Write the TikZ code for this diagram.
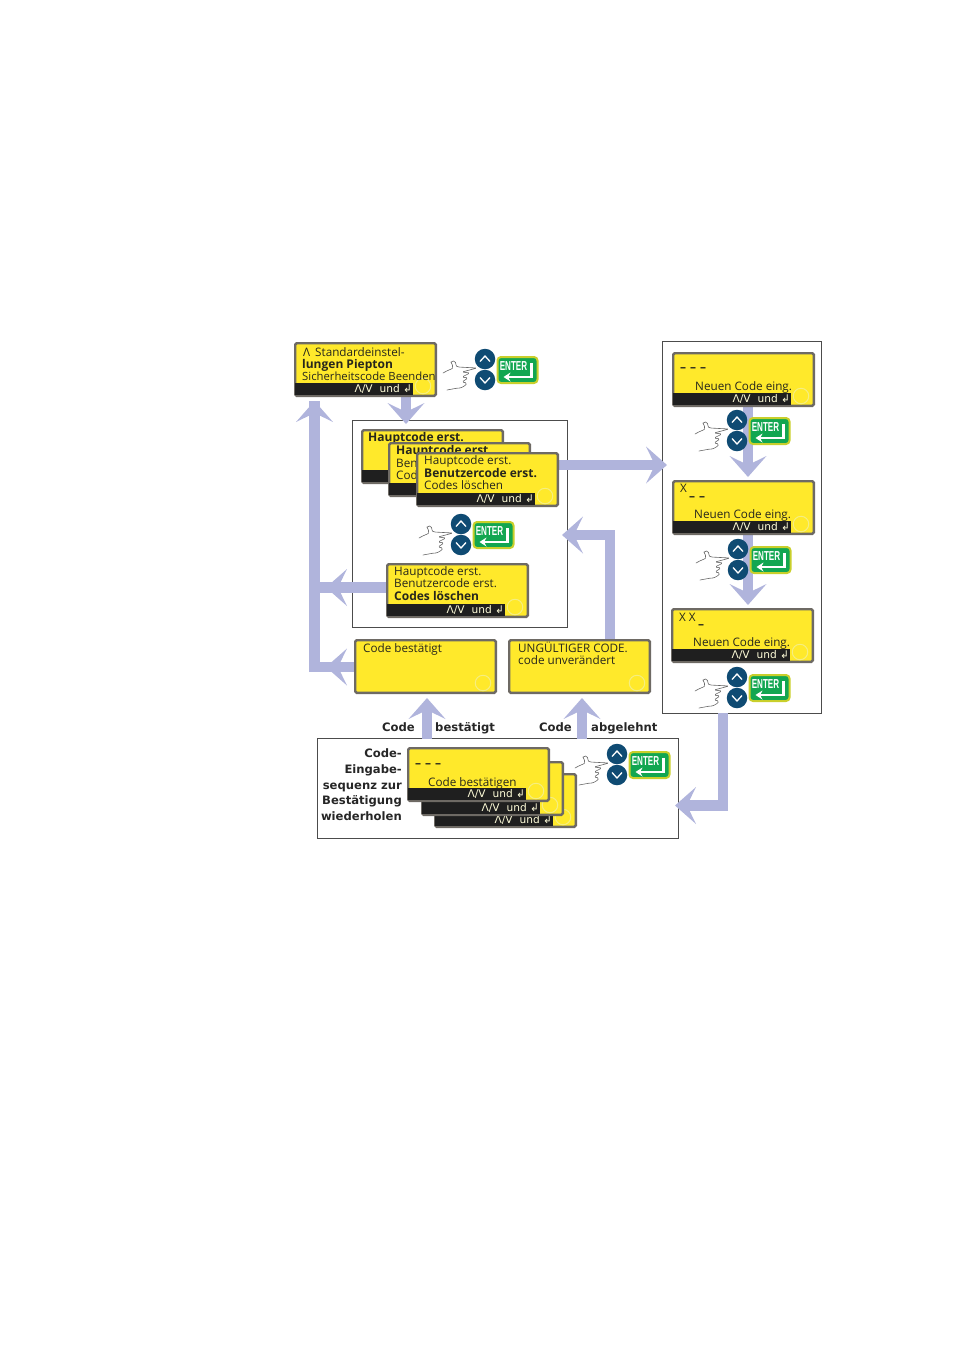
\documentclass[tikz,border=0pt]{standalone}
\usepackage{fontspec}
\setmainfont{Open Sans}
\newfontfamily\barfont{DejaVu Sans}
\newfontfamily\enterfont[FakeStretch=0.62]{Liberation Sans}
\usetikzlibrary{arrows.meta, positioning}

\definecolor{lcdyellow}{HTML}{FFE92B}
\definecolor{lcdedge}{HTML}{6E6A64}
\definecolor{lcdring}{HTML}{F6EE80}
\definecolor{flowblue}{HTML}{B0B4DC}
\definecolor{keyblue}{HTML}{0F4B73}
\definecolor{keygreen}{HTML}{12A651}
\definecolor{keyring}{HTML}{C9CF2B}
\definecolor{lcdink}{HTML}{26261C}

\tikzset{
  screen/.style={rectangle, draw=lcdedge, line width=2.4pt, fill=lcdyellow, rounded corners=1.5pt,
    minimum width=140.6pt, minimum height=52.6pt, anchor=north west, inner sep=0pt, outer sep=0pt},
  screenbar/.style={rectangle, fill=black!88, minimum width=118pt, minimum height=12pt,
    anchor=south west, inner sep=0pt, outer sep=0pt},
  screenring/.style={circle, draw=lcdring, line width=1pt, minimum size=15.5pt, inner sep=0pt},
  bartext/.style={anchor=east, text=yellow!15, inner sep=0pt, font=\barfont\fontsize{10.6}{11}\selectfont},
  lcdline/.style={anchor=west, yshift=-1pt, text=lcdink, inner sep=0pt, text height=8.5pt, text depth=2.5pt,
    font=\fontsize{11.7}{13}\selectfont},
  lcdbold/.style={lcdline, font=\fontsize{12}{13}\bfseries\selectfont},
  lcddash/.style={lcdline, font=\fontsize{12}{13}\bfseries\selectfont},
  lcdsmall/.style={lcdline, font=\fontsize{11.3}{13}\selectfont},
  steplabel/.style={yshift=-0.5pt, text=black!85, inner sep=0pt, text height=8.5pt, text depth=2.5pt,
    font=\barfont\fontsize{11.6}{13}\bfseries\selectfont},
  framebox/.style={rectangle, draw=black!70, line width=0.8pt, inner sep=0pt, outer sep=0pt, anchor=north west},
  flow/.style={draw=flowblue, line width=10.5pt},
  flowtip/.style={flow, -{Stealth[length=21pt, width=37pt, inset=9pt, line width=0pt]}},
  updown/.style={circle, fill=keyblue, minimum size=20.5pt, inner sep=0pt},
  chevron/.style={draw=white, line width=1.3pt},
  enterkey/.style={rectangle, draw=keyring, line width=2pt, fill=keygreen, rounded corners=3.5pt,
    minimum width=40pt, minimum height=26pt, inner sep=0pt},
  entertext/.style={text=white, inner sep=0pt, font=\enterfont\fontsize{13}{13}\bfseries\selectfont},
  returnline/.style={draw=white, line width=2.4pt, -{Stealth[length=7pt, width=9pt, line width=0pt]}},
  handline/.style={draw=black!60, line width=0.6pt, line cap=round, rounded corners=1.5pt},
}

% screen: name, left, top
\newcommand{\lcdscreen}[3]{
  \node (#1)[screen] at (#2+1.2, #3+1.2) {};
  \node (#1ring)[screenring] at (#2+129, #3+44) {};
}
% screen with the black line at the bottom
\newcommand{\lcdbarred}[3]{
  \lcdscreen{#1}{#2}{#3}
  \node (#1bar)[screenbar] at ([shift={(0,-0.5)}]#1.south west) {};
  \node (#1keys)[bartext] at ([xshift=-1pt]#1bar.east) {Λ/V\,\, und ↲};
}
% buttons and hand: name, centre of the upper button
\newcommand{\keypad}[2]{
  \begin{scope}[shift={(#2)}]
  \node (#1up)[updown] at (0,0) {};
  \node (#1down)[updown] at (0,21) {};
  \draw[chevron] (-5,2.5) -- (0,-3) -- (5,2.5);
  \draw[chevron] (-5,18.5) -- (0,24) -- (5,18.5);
  \node (#1enter)[enterkey] at (32.5,11) {};
  \node (#1label)[entertext] at ([shift={(-4,-4)}]#1enter.center) {ENTER};
  \draw[returnline] ([shift={(14,-7)}]#1enter.center) |- ([shift={(-14,7)}]#1enter.center);
  \draw[handline] (-42,14) .. controls (-37,11) and (-33,10) .. (-32,8)
    .. controls (-33,5) and (-34,3) .. (-33,2) -- (-30,2)
    .. controls (-29,5) and (-29,7) .. (-27,8) -- (-8,9) -- (-23,13) -- (-15,14) -- (-23,18)
    -- (-17,19) -- (-23,23) -- (-18,24) .. controls (-20,27) and (-24,29) .. (-27,29) -- (-38,31);
  \end{scope}
}

\begin{document}
\begin{tikzpicture}[x=1pt, y=-1pt]

\pgfdeclarelayer{bg}    % arrows and frames go under the screens
\pgfsetlayers{bg,main}

\useasboundingbox (0,0) rectangle (954,1350);

% top screen
\lcdbarred{topscreen}{294}{342}
\node (topa)[lcdline] at (303,352) {Λ\, Standardeinstel-};
\node (topb)[lcdbold] at (302,364) {lungen Piepton};
\node (topc)[lcdsmall] at (302,376) {Sicherheitscode Beenden};
\keypad{topkeys}{485,359}

% stack in the middle frame
\lcdbarred{stacka}{361}{429}
\node (stackat)[lcdbold] at (368,437) {Hauptcode erst.};
\lcdbarred{stackb}{388}{442}
\node (stackbt)[lcdbold] at (396,450) {Hauptcode erst.};
\node (stackbu)[lcdline] at (396,463) {Benutzercode erst.};
\node (stackbv)[lcdline] at (396,475) {Codes löschen};
\lcdbarred{stackc}{416}{452}
\node (stackct)[lcdline] at (424,460) {Hauptcode erst.};
\node (stackcu)[lcdbold] at (424,473) {Benutzercode erst.};
\node (stackcv)[lcdline] at (424,485) {Codes löschen};
\keypad{midkeys}{461,524}
\lcdbarred{wipe}{386}{563}
\node (wipet)[lcdline] at (394,571) {Hauptcode erst.};
\node (wipeu)[lcdline] at (394,583) {Benutzercode erst.};
\node (wipev)[lcdbold] at (394,596) {Codes löschen};

% right column
\lcdbarred{newa}{672}{352}
\node (newadash)[lcddash] at (680,367) {–\,\,–\,\,–};
\node (newat)[lcdline] at (695,386) {Neuen Code eing.};
\keypad{newakeys}{737,420}
\lcdbarred{newb}{672}{480}
\node (newbx)[lcdline] at (680,488) {X};
\node (newbdash)[lcddash] at (689,496) {–\,\,–};
\node (newbt)[lcdline] at (694,514) {Neuen Code eing.};
\keypad{newbkeys}{738,549}
\lcdbarred{newc}{671}{608}
\node (newcx)[lcdline] at (679,617) {X X};
\node (newcdash)[lcddash] at (698,624) {–};
\node (newct)[lcdline] at (693,642) {Neuen Code eing.};
\keypad{newckeys}{737,677}

% result screens
\lcdscreen{okscreen}{354}{639}
\node (okt)[lcdline] at (363,648) {Code bestätigt};
\lcdscreen{badscreen}{508}{639}
\node (badt)[lcdline] at (518,648) {UNGÜLTIGER CODE.};
\node (badu)[lcdline] at (518,660) {code unverändert};
\node (oklabela)[steplabel, anchor=east] at (415,728) {Code};
\node (oklabelb)[steplabel, anchor=west] at (435,728) {bestätigt};
\node (badlabela)[steplabel, anchor=east] at (572,728) {Code};
\node (badlabelb)[steplabel, anchor=west] at (591,728) {abgelehnt};

% confirm frame
\lcdbarred{conc}{434}{773}
\lcdbarred{conb}{421}{761}
\lcdbarred{cona}{407}{747}
\node (conadash)[lcddash] at (415,763) {–\,\,–\,\,–};
\node (conat)[lcdline] at (428,782) {Code bestätigen};
\keypad{conkeys}{617,754}
\node (repa)[steplabel, anchor=east] at (402,754) {Code-};
\node (repb)[steplabel, anchor=east] at (402,770) {Eingabe-};
\node (repc)[steplabel, anchor=east] at (402,786) {sequenz zur};
\node (repd)[steplabel, anchor=east] at (402,801) {Bestätigung};
\node (repe)[steplabel, anchor=east] at (402,817) {wiederholen};

\coordinate (cornerok) at (314.5,667);
\coordinate (tipup) at (314.5,401);
\coordinate (tipwipe) at (326,587.5);
\coordinate (tipok) at (326,667);
\coordinate (tipmid) at (406,424);
\coordinate (tipright) at (667,465);
\coordinate (tipnewb) at (748,477);
\coordinate (tipnewc) at (748,605);
\coordinate (tipokup) at (427,698);
\coordinate (tipbadup) at (582,698);
\coordinate (tipback) at (562,535);
\coordinate (turnback) at (610,535);
\coordinate (turnframe) at (723,805.5);
\coordinate (tipframe) at (675,805.5);

\begin{pgfonlayer}{bg}
\node (midframe)[framebox, minimum width=215pt, minimum height=207pt] at (352,420) {};
\node (rightframe)[framebox, minimum width=159pt, minimum height=372pt] at (662,341) {};
\node (conframe)[framebox, minimum width=361pt, minimum height=100pt] at (317.5,738.5) {};

\draw[flow] (okscreen.west |- tipok) -- (cornerok) ++(0,5.2) -- (tipup);
\draw[flow] (wipe.west |- tipwipe) -- (tipup |- tipwipe);
\draw[flowtip] (cornerok |- tipup) ++(0,30) -- (tipup);
\draw[flowtip] (wipe.west |- tipwipe) -- (tipwipe);
\draw[flowtip] (okscreen.west |- tipok) -- (tipok);
\draw[flowtip] (tipmid |- topscreen.south) -- (tipmid);
\draw[flowtip] (stackc.east |- tipright) -- (tipright);
\draw[flowtip] (tipnewb |- newa.south) -- (tipnewb);
\draw[flowtip] (tipnewc |- newb.south) -- (tipnewc);
\draw[flowtip] (tipokup |- conframe.north) -- (tipokup);
\draw[flowtip] (tipbadup |- conframe.north) -- (tipbadup);
\draw[flowtip] (turnback |- badscreen.north) -- (turnback) -- (tipback);
\draw[flowtip] (turnframe |- rightframe.south) -- (turnframe) -- (tipframe);
\end{pgfonlayer}
\end{tikzpicture}
\end{document}
